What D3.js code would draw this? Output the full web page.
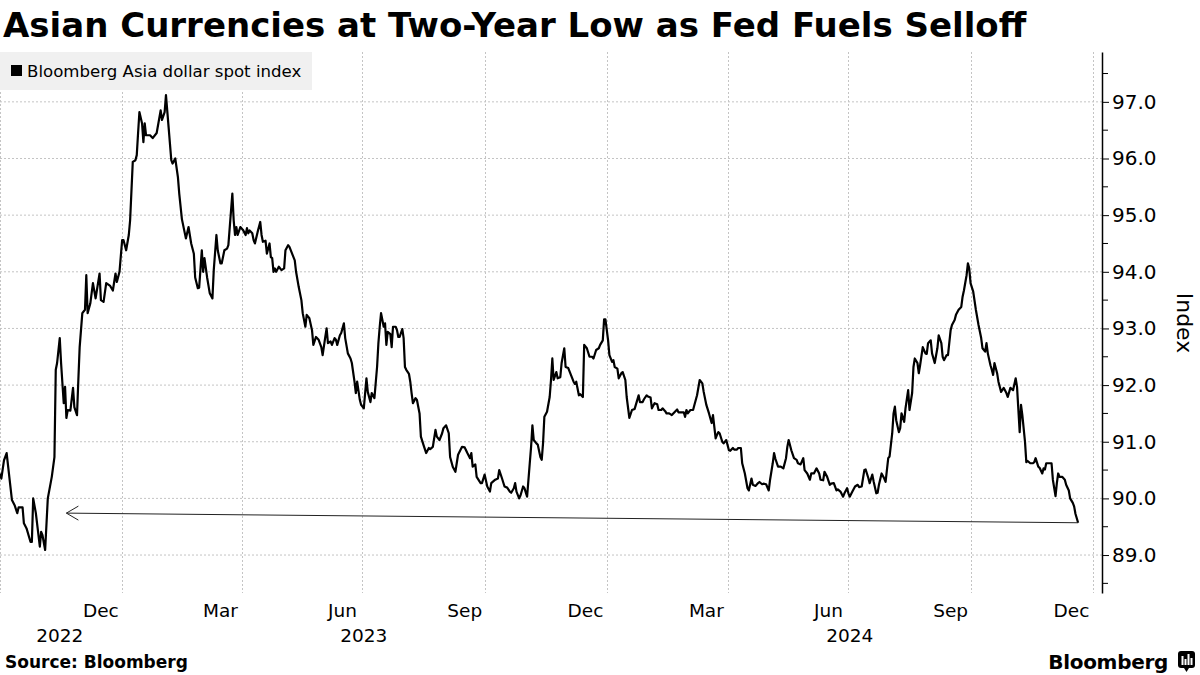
<!DOCTYPE html>
<html>
<head>
<meta charset="utf-8">
<script src="https://cdn.jsdelivr.net/npm/d3@7"></script>
<style>
  body { margin: 0; background: #fff; }
  svg { display: block; font-family: "DejaVu Sans", sans-serif; }
</style>
</head>
<body>
<div id="chart"></div>
<script>
// ---- data ----
var title = "Asian Currencies at Two-Year Low as Fed Fuels Selloff";
var seriesName = "Bloomberg Asia dollar spot index";
var source = "Source: Bloomberg";

var spotIndex = [
  ["2022-10-01",90.44],["2022-10-02",90.35],["2022-10-04",90.67],["2022-10-06",90.80],["2022-10-10",89.97],
  ["2022-10-12",89.88],["2022-10-14",89.74],["2022-10-15",89.84],["2022-10-18",89.84],["2022-10-19",89.56],
  ["2022-10-21",89.47],["2022-10-24",89.23],["2022-10-25",89.23],["2022-10-26",90.00],["2022-10-28",89.74],
  ["2022-10-31",89.15],["2022-11-01",89.41],["2022-11-02",89.35],["2022-11-04",89.09],["2022-11-06",90.00],
  ["2022-11-09",90.38],["2022-11-11",90.73],["2022-11-12",92.27],["2022-11-13",92.39],["2022-11-15",92.83],
  ["2022-11-16",92.39],["2022-11-18",91.68],["2022-11-19",91.97],["2022-11-20",91.42],["2022-11-21",91.56],
  ["2022-11-23",91.55],["2022-11-25",91.95],["2022-11-26",91.61],["2022-11-28",91.47],["2022-11-29",92.09],
  ["2022-11-30",92.67],["2022-12-02",93.27],["2022-12-04",93.33],["2022-12-05",93.94],["2022-12-06",93.27],
  ["2022-12-08",93.44],["2022-12-10",93.80],["2022-12-12",93.53],["2022-12-15",93.97],["2022-12-16",93.50],
  ["2022-12-18",93.47],["2022-12-20",93.80],["2022-12-23",93.75],["2022-12-25",93.67],["2022-12-27",93.97],
  ["2022-12-28",93.82],["2022-12-30",94.00],["2023-01-01",94.56],["2023-01-02",94.56],["2023-01-04",94.38],
  ["2023-01-06",94.65],["2023-01-07",94.91],["2023-01-09",95.94],["2023-01-11",95.97],["2023-01-12",96.06],
  ["2023-01-13",96.45],["2023-01-14",96.82],["2023-01-16",96.62],["2023-01-17",96.29],["2023-01-18",96.62],
  ["2023-01-19",96.41],["2023-01-22",96.41],["2023-01-24",96.36],["2023-01-27",96.45],["2023-01-30",96.85],
  ["2023-01-31",96.68],["2023-02-02",96.82],["2023-02-03",97.12],["2023-02-05",96.55],["2023-02-07",95.97],
  ["2023-02-08",95.91],["2023-02-10",96.00],["2023-02-12",95.67],["2023-02-13",95.38],["2023-02-15",94.93],
  ["2023-02-18",94.59],["2023-02-20",94.79],["2023-02-22",94.50],["2023-02-24",94.32],["2023-02-25",93.90],
  ["2023-02-27",93.71],["2023-02-28",93.72],["2023-03-02",94.38],["2023-03-03",94.00],["2023-03-04",94.24],
  ["2023-03-06",93.90],["2023-03-08",93.62],["2023-03-10",93.53],["2023-03-11",94.03],["2023-03-13",94.65],
  ["2023-03-14",94.38],["2023-03-16",94.15],["2023-03-17",94.15],["2023-03-19",94.38],["2023-03-21",94.41],
  ["2023-03-22",94.47],["2023-03-25",95.38],["2023-03-26",94.91],["2023-03-27",94.65],["2023-03-28",94.79],
  ["2023-03-29",94.65],["2023-03-31",94.79],["2023-04-02",94.74],["2023-04-04",94.65],["2023-04-05",94.77],
  ["2023-04-06",94.68],["2023-04-07",94.73],["2023-04-09",94.68],["2023-04-10",94.56],["2023-04-11",94.50],
  ["2023-04-13",94.70],["2023-04-15",94.88],["2023-04-16",94.65],["2023-04-17",94.53],["2023-04-19",94.55],
  ["2023-04-20",94.32],["2023-04-22",94.50],["2023-04-23",94.26],["2023-04-24",94.24],["2023-04-25",94.00],
  ["2023-04-26",94.06],["2023-04-27",94.00],["2023-04-29",94.09],["2023-05-01",94.03],["2023-05-03",94.06],
  ["2023-05-04",94.38],["2023-05-06",94.47],["2023-05-07",94.44],["2023-05-09",94.32],["2023-05-11",94.20],
  ["2023-05-12",94.00],["2023-05-14",93.73],["2023-05-16",93.50],["2023-05-17",93.27],["2023-05-19",93.03],
  ["2023-05-20",93.24],["2023-05-22",93.18],["2023-05-24",92.97],["2023-05-25",92.71],["2023-05-27",92.85],
  ["2023-05-29",92.80],["2023-05-31",92.67],["2023-06-01",92.53],["2023-06-03",92.85],["2023-06-04",93.00],
  ["2023-06-05",92.74],["2023-06-07",92.77],["2023-06-08",92.71],["2023-06-10",92.83],["2023-06-11",92.80],
  ["2023-06-12",92.71],["2023-06-14",92.88],["2023-06-15",92.92],["2023-06-17",93.09],["2023-06-18",92.83],
  ["2023-06-20",92.56],["2023-06-22",92.47],["2023-06-23",92.39],["2023-06-25",92.06],["2023-06-26",91.86],
  ["2023-06-27",92.06],["2023-06-29",91.74],["2023-06-30",91.65],["2023-07-02",91.59],["2023-07-04",92.12],
  ["2023-07-05",91.88],["2023-07-07",91.70],["2023-07-08",91.86],["2023-07-10",91.77],["2023-07-12",92.32],
  ["2023-07-13",92.74],["2023-07-14",93.03],["2023-07-15",93.27],["2023-07-17",93.03],["2023-07-18",93.09],
  ["2023-07-19",92.71],["2023-07-20",92.94],["2023-07-22",92.90],["2023-07-23",92.67],["2023-07-24",93.03],
  ["2023-07-26",93.03],["2023-07-27",92.97],["2023-07-28",92.85],["2023-07-29",92.85],["2023-07-31",92.99],
  ["2023-08-01",92.83],["2023-08-02",92.32],["2023-08-03",92.27],["2023-08-05",92.20],["2023-08-06",92.06],
  ["2023-08-07",91.86],["2023-08-08",91.68],["2023-08-10",91.77],["2023-08-11",91.74],["2023-08-13",91.50],
  ["2023-08-14",91.09],["2023-08-16",90.94],["2023-08-18",90.80],["2023-08-20",90.89],["2023-08-21",90.87],
  ["2023-08-23",90.91],["2023-08-25",91.21],["2023-08-26",91.09],["2023-08-28",91.03],["2023-08-30",91.15],
  ["2023-08-31",91.24],["2023-09-02",91.29],["2023-09-04",91.15],["2023-09-05",90.73],["2023-09-07",90.56],
  ["2023-09-09",90.47],["2023-09-11",90.77],["2023-09-14",90.91],["2023-09-16",90.90],["2023-09-18",90.80],
  ["2023-09-20",90.71],["2023-09-21",90.80],["2023-09-22",90.56],["2023-09-24",90.60],["2023-09-25",90.38],
  ["2023-09-28",90.27],["2023-09-29",90.27],["2023-10-01",90.42],["2023-10-03",90.21],["2023-10-05",90.12],
  ["2023-10-06",90.27],["2023-10-09",90.33],["2023-10-11",90.35],["2023-10-12",90.50],["2023-10-14",90.36],
  ["2023-10-16",90.21],["2023-10-18",90.19],["2023-10-20",90.12],["2023-10-21",90.10],["2023-10-23",90.18],
  ["2023-10-24",90.27],["2023-10-25",90.12],["2023-10-27",90.00],["2023-10-28",90.05],["2023-10-30",90.21],
  ["2023-10-31",90.18],["2023-11-02",90.03],["2023-11-04",90.62],["2023-11-05",90.91],["2023-11-06",91.29],
  ["2023-11-07",91.03],["2023-11-09",90.97],["2023-11-10",90.95],["2023-11-12",90.73],["2023-11-13",90.68],
  ["2023-11-14",90.97],["2023-11-15",91.44],["2023-11-17",91.53],["2023-11-19",91.79],["2023-11-20",92.09],
  ["2023-11-21",92.47],["2023-11-22",92.09],["2023-11-24",92.23],["2023-11-25",92.12],["2023-11-27",92.14],
  ["2023-11-28",92.39],["2023-11-30",92.65],["2023-12-01",92.32],["2023-12-03",92.30],["2023-12-05",92.18],
  ["2023-12-07",92.06],["2023-12-08",92.02],["2023-12-09",92.06],["2023-12-11",91.82],["2023-12-12",91.84],
  ["2023-12-14",91.79],["2023-12-15",92.71],["2023-12-17",92.65],["2023-12-19",92.50],["2023-12-21",92.50],
  ["2023-12-22",92.47],["2023-12-24",92.62],["2023-12-26",92.65],["2023-12-27",92.71],["2023-12-29",92.79],
  ["2023-12-30",93.16],["2023-12-31",93.16],["2024-01-02",92.79],["2024-01-03",92.53],["2024-01-05",92.41],
  ["2024-01-06",92.44],["2024-01-07",92.32],["2024-01-09",92.29],["2024-01-10",92.12],["2024-01-12",92.21],
  ["2024-01-13",92.23],["2024-01-15",92.09],["2024-01-16",91.79],["2024-01-18",91.42],["2024-01-20",91.56],
  ["2024-01-22",91.58],["2024-01-24",91.74],["2024-01-25",91.82],["2024-01-26",91.70],["2024-01-28",91.70],
  ["2024-01-29",91.75],["2024-01-31",91.82],["2024-02-01",91.80],["2024-02-03",91.78],["2024-02-04",91.59],
  ["2024-02-06",91.68],["2024-02-08",91.66],["2024-02-09",91.56],["2024-02-11",91.56],["2024-02-12",91.59],
  ["2024-02-14",91.54],["2024-02-15",91.50],["2024-02-17",91.50],["2024-02-19",91.47],["2024-02-21",91.52],
  ["2024-02-23",91.57],["2024-02-24",91.52],["2024-02-26",91.52],["2024-02-28",91.52],["2024-02-29",91.44],
  ["2024-03-01",91.56],["2024-03-02",91.50],["2024-03-04",91.56],["2024-03-06",91.56],["2024-03-07",91.65],
  ["2024-03-09",91.82],["2024-03-11",92.09],["2024-03-13",92.03],["2024-03-14",91.88],["2024-03-16",91.65],
  ["2024-03-18",91.50],["2024-03-20",91.33],["2024-03-21",91.47],["2024-03-23",91.06],["2024-03-24",91.12],
  ["2024-03-25",91.17],["2024-03-26",91.15],["2024-03-28",91.00],["2024-03-29",90.97],["2024-03-31",91.03],
  ["2024-04-02",90.85],["2024-04-03",90.84],["2024-04-05",90.89],["2024-04-06",90.86],["2024-04-08",90.86],
  ["2024-04-09",90.89],["2024-04-11",90.89],["2024-04-12",90.62],["2024-04-14",90.44],["2024-04-16",90.18],
  ["2024-04-17",90.14],["2024-04-19",90.35],["2024-04-20",90.24],["2024-04-22",90.22],["2024-04-24",90.27],
  ["2024-04-25",90.29],["2024-04-27",90.25],["2024-04-28",90.26],["2024-04-30",90.25],["2024-05-02",90.14],
  ["2024-05-03",90.33],["2024-05-05",90.62],["2024-05-06",90.80],["2024-05-07",90.70],["2024-05-09",90.56],
  ["2024-05-11",90.56],["2024-05-13",90.53],["2024-05-15",90.71],["2024-05-16",90.91],["2024-05-17",91.03],
  ["2024-05-19",90.85],["2024-05-21",90.71],["2024-05-23",90.68],["2024-05-24",90.62],["2024-05-26",90.60],
  ["2024-05-28",90.71],["2024-05-29",90.50],["2024-05-31",90.44],["2024-06-02",90.33],["2024-06-03",90.44],
  ["2024-06-05",90.44],["2024-06-07",90.53],["2024-06-09",90.44],["2024-06-10",90.33],["2024-06-12",90.32],
  ["2024-06-13",90.47],["2024-06-15",90.38],["2024-06-17",90.24],["2024-06-18",90.26],["2024-06-20",90.27],
  ["2024-06-22",90.14],["2024-06-23",90.16],["2024-06-25",90.12],["2024-06-27",90.03],["2024-06-28",90.09],
  ["2024-06-30",90.18],["2024-07-01",90.09],["2024-07-02",90.03],["2024-07-04",90.12],["2024-07-06",90.21],
  ["2024-07-08",90.24],["2024-07-09",90.20],["2024-07-11",90.21],["2024-07-13",90.50],["2024-07-14",90.51],
  ["2024-07-16",90.36],["2024-07-17",90.27],["2024-07-19",90.42],["2024-07-20",90.30],["2024-07-22",90.09],
  ["2024-07-23",90.10],["2024-07-24",90.24],["2024-07-26",90.44],["2024-07-28",90.35],["2024-07-29",90.29],
  ["2024-07-31",90.71],["2024-08-01",90.74],["2024-08-03",91.15],["2024-08-04",91.50],["2024-08-05",91.62],
  ["2024-08-06",91.38],["2024-08-08",91.17],["2024-08-09",91.24],["2024-08-10",91.50],["2024-08-12",91.35],
  ["2024-08-13",91.59],["2024-08-15",91.91],["2024-08-16",91.56],["2024-08-18",91.86],["2024-08-19",92.32],
  ["2024-08-20",92.47],["2024-08-22",92.39],["2024-08-23",92.21],["2024-08-24",92.35],["2024-08-26",92.67],
  ["2024-08-28",92.56],["2024-08-29",92.55],["2024-08-30",92.74],["2024-09-01",92.79],["2024-09-02",92.56],
  ["2024-09-04",92.39],["2024-09-06",92.65],["2024-09-07",92.88],["2024-09-09",92.74],["2024-09-10",92.50],
  ["2024-09-11",92.44],["2024-09-13",92.53],["2024-09-14",92.53],["2024-09-16",92.97],["2024-09-17",93.06],
  ["2024-09-19",93.15],["2024-09-20",93.24],["2024-09-22",93.33],["2024-09-24",93.38],["2024-09-25",93.56],
  ["2024-09-26",93.67],["2024-09-28",93.94],["2024-09-29",94.15],["2024-09-30",94.06],["2024-10-01",93.80],
  ["2024-10-03",93.65],["2024-10-05",93.33],["2024-10-07",93.06],["2024-10-09",92.83],["2024-10-10",92.65],
  ["2024-10-12",92.59],["2024-10-13",92.74],["2024-10-14",92.56],["2024-10-16",92.35],["2024-10-17",92.27],
  ["2024-10-18",92.18],["2024-10-19",92.39],["2024-10-21",92.21],["2024-10-22",92.06],["2024-10-24",91.88],
  ["2024-10-26",91.95],["2024-10-28",91.86],["2024-10-29",91.79],["2024-10-31",91.95],["2024-11-02",91.91],
  ["2024-11-04",92.12],["2024-11-05",91.97],["2024-11-07",91.17],["2024-11-08",91.65],["2024-11-09",91.47],
  ["2024-11-11",91.00],["2024-11-12",90.64],["2024-11-13",90.66],["2024-11-15",90.62],["2024-11-17",90.62],
  ["2024-11-18",90.64],["2024-11-19",90.71],["2024-11-21",90.56],["2024-11-22",90.54],["2024-11-24",90.44],
  ["2024-11-25",90.53],["2024-11-26",90.51],["2024-11-27",90.62],["2024-11-29",90.62],["2024-12-01",90.62],
  ["2024-12-02",90.33],["2024-12-04",90.04],["2024-12-05",90.27],["2024-12-06",90.44],["2024-12-07",90.38],
  ["2024-12-09",90.38],["2024-12-11",90.33],["2024-12-12",90.24],["2024-12-14",90.14],["2024-12-15",90.00],
  ["2024-12-17",89.92],["2024-12-18",89.86],["2024-12-19",89.73],["2024-12-21",89.57]
];

var yTicks = [89, 90, 91, 92, 93, 94, 95, 96, 97];
var yMinorTicks = [88.5, 89.5, 90.5, 91.5, 92.5, 93.5, 94.5, 95.5, 96.5, 97.5];
var xDomain = ["2022-10-01", "2025-01-08"];
var yDomain = [88.33, 97.88];

// quarter boundaries (vertical grid)
var quarterBounds = ["2022-10-01", "2023-01-01", "2023-04-01", "2023-07-01", "2023-10-01",
                     "2024-01-01", "2024-04-01", "2024-07-01", "2024-10-01", "2025-01-01"];
// month labels sit in the middle of their month
var monthLabels = ["Dec", "Mar", "Jun", "Sep", "Dec", "Mar", "Jun", "Sep", "Dec"];
var monthLabelDates = ["2022-12-16", "2023-03-16", "2023-06-16", "2023-09-16", "2023-12-16",
                       "2024-03-16", "2024-06-16", "2024-09-16", "2024-12-16"];
var yearLabels = ["2022", "2023", "2024"];
var yearLabelDates = ["2022-11-15", "2023-07-02", "2024-07-02"];

// annotation arrow: from the latest print back to the 2022 level
var arrowFrom = ["2024-12-21", 89.57];
var arrowTo = ["2022-11-20", 89.74];

// ---- drawing ----
var W = 1200, H = 675;
var plot = { left: 0, right: 1102, top: 52, bottom: 593 };
var parse = d3.timeParse("%Y-%m-%d");

var svg = d3.select("#chart").append("svg")
    .attr("width", W)
    .attr("height", H);

var x = d3.scaleTime()
    .domain(xDomain.map(parse))
    .range([plot.left, plot.right]);

var y = d3.scaleLinear()
    .domain(yDomain)
    .range([plot.bottom, plot.top]);

// grid
svg.append("g").selectAll("line")
    .data(yTicks)
    .enter().append("line")
    .attr("x1", plot.left).attr("x2", plot.right)
    .attr("y1", function(d) { return y(d); })
    .attr("y2", function(d) { return y(d); })
    .attr("stroke", "#c4c4c4")
    .attr("stroke-dasharray", "2,2");

svg.append("g").selectAll("line")
    .data(quarterBounds)
    .enter().append("line")
    .attr("x1", function(d) { return Math.round(x(parse(d))) + 0.5; })
    .attr("x2", function(d) { return Math.round(x(parse(d))) + 0.5; })
    .attr("y1", plot.top).attr("y2", plot.bottom)
    .attr("stroke", "#c4c4c4")
    .attr("stroke-dasharray", "2,2");

// legend box
svg.append("rect")
    .attr("x", 0).attr("y", 52)
    .attr("width", 312).attr("height", 38)
    .attr("fill", "#f0f0f0");
svg.append("rect")
    .attr("x", 11).attr("y", 65)
    .attr("width", 11).attr("height", 11)
    .attr("fill", "#000");
svg.append("text")
    .attr("x", 27).attr("y", 77)
    .attr("font-size", 16.6)
    .attr("fill", "#000")
    .text(seriesName);

// series
var data = spotIndex.map(function(d) { return { date: parse(d[0]), value: d[1] }; });

var line = d3.line()
    .x(function(d) { return x(d.date); })
    .y(function(d) { return y(d.value); });

svg.append("path")
    .datum(data)
    .attr("fill", "none")
    .attr("stroke", "#000")
    .attr("stroke-width", 2.2)
    .attr("stroke-linejoin", "round")
    .attr("d", line);

// arrow annotation
var ax1 = x(parse(arrowFrom[0])), ay1 = y(arrowFrom[1]);
var ax2 = x(parse(arrowTo[0])), ay2 = y(arrowTo[1]);
svg.append("line")
    .attr("x1", ax1).attr("y1", ay1)
    .attr("x2", ax2).attr("y2", ay2)
    .attr("stroke", "#222")
    .attr("stroke-width", 1);
svg.append("path")
    .attr("d", "M" + (ax2 + 12) + "," + (ay2 - 7) + "L" + ax2 + "," + ay2 + "L" + (ax2 + 12) + "," + (ay2 + 7))
    .attr("fill", "none")
    .attr("stroke", "#222")
    .attr("stroke-width", 1);

// right axis
var yAxis = svg.append("g")
    .attr("transform", "translate(" + plot.right + ",0)")
    .call(d3.axisRight(y)
        .tickValues(yTicks)
        .tickSize(7)
        .tickSizeOuter(0)
        .tickPadding(3)
        .tickFormat(d3.format(".1f")));
yAxis.select(".domain").attr("stroke", "#000").attr("stroke-width", 1.5);
yAxis.selectAll("text")
    .attr("font-family", "DejaVu Sans, sans-serif")
    .attr("font-size", 20)
    .attr("fill", "#000");

svg.append("g")
    .attr("transform", "translate(" + plot.right + ",0)")
    .selectAll("line")
    .data(yMinorTicks)
    .enter().append("line")
    .attr("x1", 0).attr("x2", 6)
    .attr("y1", function(d) { return y(d); })
    .attr("y2", function(d) { return y(d); })
    .attr("stroke", "#000");

svg.append("text")
    .attr("transform", "translate(1177,323) rotate(90)")
    .attr("text-anchor", "middle")
    .attr("font-size", 22)
    .attr("fill", "#000")
    .text("Index");

// bottom labels
svg.append("g").selectAll("text")
    .data(monthLabels)
    .enter().append("text")
    .attr("x", function(d, i) { return x(parse(monthLabelDates[i])); })
    .attr("y", 617)
    .attr("text-anchor", "middle")
    .attr("font-size", 18.5)
    .attr("fill", "#000")
    .text(function(d) { return d; });

svg.append("g").selectAll("text")
    .data(yearLabels)
    .enter().append("text")
    .attr("x", function(d, i) { return x(parse(yearLabelDates[i])); })
    .attr("y", 642)
    .attr("text-anchor", "middle")
    .attr("font-size", 18.5)
    .attr("fill", "#000")
    .text(function(d) { return d; });

// title & footer
svg.append("text")
    .attr("x", 3).attr("y", 37)
    .attr("font-size", 34)
    .attr("font-weight", "bold")
    .attr("fill", "#000")
    .text(title);

svg.append("text")
    .attr("x", 5).attr("y", 668)
    .attr("font-size", 17)
    .attr("font-weight", "bold")
    .attr("fill", "#000")
    .text(source);

var logo = svg.append("g");
logo.append("text")
    .attr("x", 1168).attr("y", 669)
    .attr("text-anchor", "end")
    .attr("font-size", 20)
    .attr("font-weight", "bold")
    .attr("letter-spacing", -0.3)
    .attr("fill", "#000")
    .text("Bloomberg");
logo.append("rect")
    .attr("x", 1178).attr("y", 651)
    .attr("width", 17).attr("height", 17)
    .attr("rx", 3)
    .attr("fill", "#000");
logo.append("path")
    .attr("d", "M1184,668 L1186.5,672 L1189,668 Z")
    .attr("fill", "#000");
logo.selectAll(".bar")
    .data([[1181.5, 9], [1184.5, 6], [1187.5, 11], [1190.5, 7]])
    .enter().append("rect")
    .attr("x", function(d) { return d[0]; })
    .attr("y", function(d) { return 665 - d[1]; })
    .attr("width", 2)
    .attr("height", function(d) { return d[1]; })
    .attr("fill", "#fff");
</script>
</body>
</html>
